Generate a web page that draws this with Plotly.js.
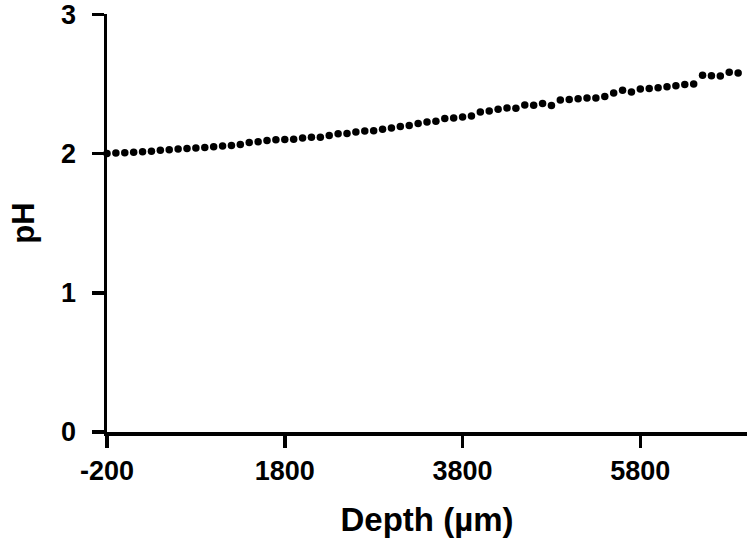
<!DOCTYPE html>
<html>
<head>
<meta charset="utf-8">
<script src="https://cdn.plot.ly/plotly-3.0.1.min.js"></script>
<style>html,body{margin:0;padding:0;background:#fff;}#chart{width:749px;height:547px;}</style>
</head>
<body>
<div id="chart"></div>
<script>
// Depth (µm), 100 µm steps from -200 to 6900
const depth = [-200,-100,0,100,200,300,400,500,600,700,800,900,1000,1100,1200,1300,1400,1500,1600,1700,
  1800,1900,2000,2100,2200,2300,2400,2500,2600,2700,2800,2900,3000,3100,3200,3300,3400,3500,3600,3700,
  3800,3900,4000,4100,4200,4300,4400,4500,4600,4700,4800,4900,5000,5100,5200,5300,5400,5500,5600,5700,
  5800,5900,6000,6100,6200,6300,6400,6500,6600,6700,6800,6900];
const pH = [2.000,2.005,2.007,2.010,2.013,2.017,2.024,2.028,2.033,2.036,2.040,2.044,2.049,2.054,2.058,2.065,2.080,2.086,2.095,2.100,
  2.102,2.104,2.112,2.118,2.118,2.130,2.142,2.144,2.155,2.162,2.164,2.175,2.184,2.195,2.202,2.216,2.228,2.233,2.252,2.256,
  2.263,2.271,2.299,2.306,2.319,2.328,2.326,2.350,2.347,2.360,2.345,2.385,2.388,2.395,2.400,2.400,2.410,2.435,2.455,2.443,
  2.465,2.468,2.474,2.480,2.487,2.497,2.500,2.563,2.560,2.557,2.585,2.580];
const xTicks = [-200,1800,3800,5800];
const yTicks = [0,1,2,3];

const fontFam = 'Arial, "Liberation Sans", sans-serif';
const trace = {
  x: depth, y: pH, type: 'scatter', mode: 'markers',
  marker: {color: '#000', size: 7.5, symbol: 'circle'},
  cliponaxis: false, hoverinfo: 'skip'
};
const layout = {
  width: 749, height: 547,
  margin: {l: 107, r: 2, t: 14, b: 115},
  paper_bgcolor: '#fff', plot_bgcolor: '#fff',
  showlegend: false,
  font: {family: fontFam, color: '#000', size: 27, weight: 'bold'},
  xaxis: {
    range: [-200, 7000], tickvals: xTicks, ticktext: xTicks.map(String),
    showgrid: false, zeroline: false, showline: true, linecolor: '#000', linewidth: 3.5,
    ticks: 'outside', ticklen: 12, tickwidth: 3.5, tickcolor: '#000',
    tickfont: {family: fontFam, size: 27, color: '#000', weight: 'bold'},
    title: {text: 'Depth (µm)', font: {family: fontFam, size: 33, color: '#000', weight: 'bold'}, standoff: 24}
  },
  yaxis: {
    range: [0, 3.003], tickvals: yTicks, ticktext: yTicks.map(String),
    showgrid: false, zeroline: false, showline: true, linecolor: '#000', linewidth: 3.5,
    ticks: 'outside', ticklen: 12, tickwidth: 3.5, tickcolor: '#000',
    tickfont: {family: fontFam, size: 27, color: '#000', weight: 'bold'},
    ticklabelstandoff: 10, ticklabeloverflow: 'allow',
    title: {text: 'pH', font: {family: fontFam, size: 31, color: '#000', weight: 'bold'}, standoff: 18}
  }
};
Plotly.newPlot('chart', [trace], layout, {displayModeBar: false, staticPlot: true});
</script>
</body>
</html>
